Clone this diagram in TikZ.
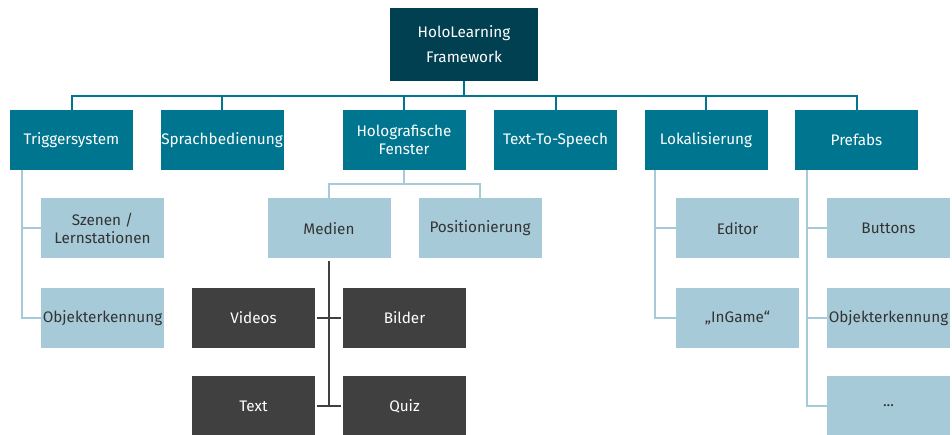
\documentclass[tikz,border=0pt]{standalone}
\usepackage{fontspec}
\setmainfont{Fira Sans}
\definecolor{holodark}{HTML}{004050}
\definecolor{holoteal}{HTML}{00758F}
\definecolor{hololight}{HTML}{A7CAD8}
\definecolor{hologray}{HTML}{404040}
\definecolor{holotext}{HTML}{333333}
\tikzset{box/.style={rectangle, inner sep=0pt, minimum width=123pt, minimum height=60pt, align=center, font=\fontsize{15.3}{17.5}\selectfont},
  rootbox/.style={box, fill=holodark, text=white, minimum width=148pt, minimum height=73pt, font=\fontsize{15.3}{25}\selectfont},
  mainbox/.style={box, fill=holoteal, text=white},
  subbox/.style={box, fill=hololight, text=holotext},
  mediabox/.style={box, fill=hologray, text=white},
  busline/.style={holoteal, line width=2pt},
  subline/.style={hololight, line width=2pt},
  medialine/.style={hologray, line width=2pt}}
\begin{document}
\begin{tikzpicture}[x=1pt, y=-1pt]
    \useasboundingbox (0,0) rectangle (952,435);
    \def\rowa{140}
    \def\rowb{228.5}
    \def\rowc{318}
    \def\rowd{406}
    \node [rootbox] (root) at (464,44.5) {HoloLearning\\Framework};
    \node [mainbox] (trig) at (71.5,\rowa) {Triggersystem};
    \node [mainbox] (sprach) at (222,\rowa) {Sprachbedienung};
    \node [mainbox] (fenster) at (404,\rowa) {Holografische\\Fenster};
    \node [mainbox] (tts) at (555.5,\rowa) {Text-To-Speech};
    \node [mainbox] (lokal) at (706,\rowa) {Lokalisierung};
    \node [mainbox] (prefabs) at (856.5,\rowa) {Prefabs};
    \node [subbox] (szenen) at (102.5,\rowb) {Szenen /\\Lernstationen};
    \node [subbox] (objekt) at (102.5,\rowc) {Objekterkennung};
    \node [subbox] (medien) at (329,\rowb) {Medien};
    \node [subbox] (position) at (480,\rowb) {Positionierung};
    \node [mediabox] (videos) at (253.5,\rowc) {Videos};
    \node [mediabox] (bilder) at (404.5,\rowc) {Bilder};
    \node [mediabox] (text) at (253.5,\rowd) {Text};
    \node [mediabox] (quiz) at (404.5,\rowd) {Quiz};
    \node [subbox] (editor) at (737.5,\rowb) {Editor};
    \node [subbox] (ingame) at (737.5,\rowc) {„InGame“};
    \node [subbox] (buttons) at (888.5,\rowb) {Buttons};
    \node [subbox] (objekt2) at (888.5,\rowc) {Objekterkennung};
    \node [subbox] (more) at (888.5,\rowd) {...};
    \draw [busline] (root.south) -- ++(0,15) -| (trig.north);
    \draw [busline] (root.south) -- ++(0,15) -| (sprach.north);
    \draw [busline] (root.south) -- ++(0,15) -| (fenster.north);
    \draw [busline] (root.south) -- ++(0,15) -| (tts.north);
    \draw [busline] (root.south) -- ++(0,15) -| (lokal.north);
    \draw [busline] (root.south) -- ++(0,15) -| (prefabs.north);
    \draw [subline] ([xshift=-49.5pt]trig.south) |- (szenen.west);
    \draw [subline] ([xshift=-49.5pt]trig.south) |- (objekt.west);
    \draw [subline] (fenster.south) -- ++(0,14) -| (medien.north);
    \draw [subline] (fenster.south) -- ++(0,14) -| (position.north);
    \draw [subline] ([xshift=11pt]lokal.south west) |- (editor.west);
    \draw [subline] ([xshift=11pt]lokal.south west) |- (ingame.west);
    \draw [subline] ([xshift=12pt]prefabs.south west) |- (buttons.west);
    \draw [subline] ([xshift=12pt]prefabs.south west) |- (objekt2.west);
    \draw [subline] ([xshift=12pt]prefabs.south west) |- (more.west);
    \draw [medialine] ([yshift=-2pt]medien.south) -- (medien.south |- text.east);
    \draw [medialine, shorten <=2pt, shorten >=2pt] (videos.east) -- (bilder.west);
    \draw [medialine, shorten <=2pt, shorten >=2pt] (text.east) -- (quiz.west);
  \end{tikzpicture}
\end{document}
